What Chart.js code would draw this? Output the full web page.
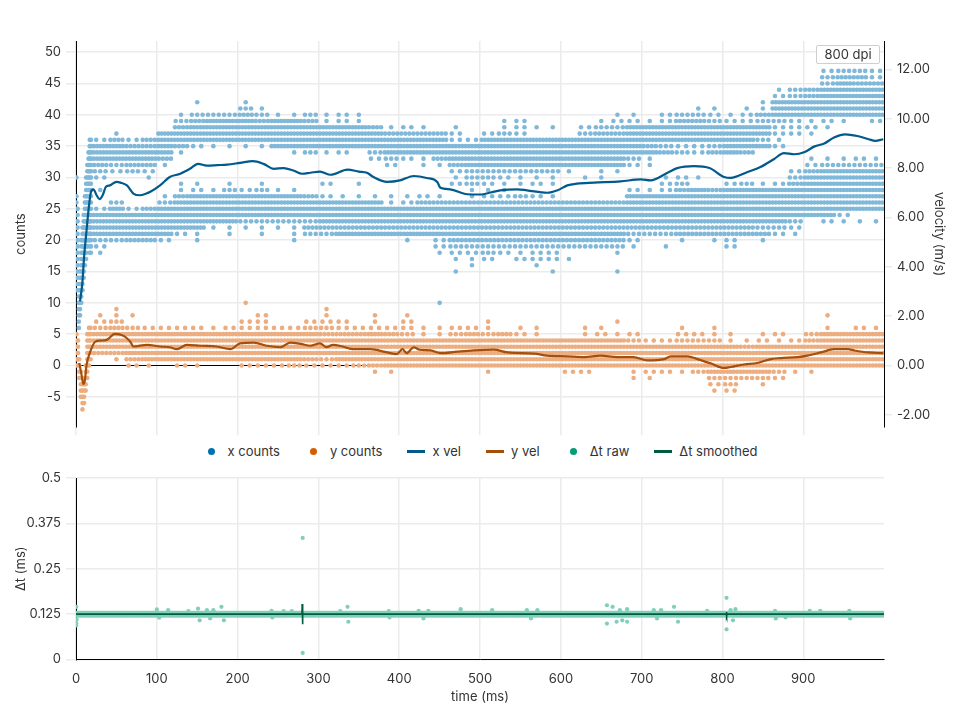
<!DOCTYPE html>
<html>
<head>
<meta charset="utf-8">
<script src="https://cdn.jsdelivr.net/npm/chart.js@4.4.1/dist/chart.umd.min.js"></script>
<style>
  html, body { margin: 0; padding: 0; background: #fff; }
  body { width: 960px; height: 720px; position: relative; overflow: hidden; font-family: Inter, "Noto Sans", sans-serif; }
  #top-wrap { position: absolute; left: 0; top: 0; width: 960px; height: 440px; }
  #bot-wrap { position: absolute; left: 0; top: 465px; width: 960px; height: 255px; }
  #legend { position: absolute; left: 0; top: 441px; width: 960px; height: 20px; display: flex; justify-content: center; align-items: center; font-size: 13px; color: #333; }
  .item { display: flex; align-items: center; margin: 0 12.5px; white-space: nowrap; }
  .mark { width: 18px; height: 18px; display: flex; align-items: center; justify-content: center; margin-right: 7px; }
  .dot { width: 7px; height: 7px; border-radius: 50%; }
  .bar { width: 18px; height: 3px; }
  #dpi { position: absolute; left: 816px; top: 45px; width: 62px; height: 17px; border: 1px solid #cfcfcf; border-radius: 2px; background: rgba(255,255,255,0.92); font-size: 13px; color: #333; line-height: 17px; text-align: center; }
</style>
</head>
<body>
<div id="top-wrap"><canvas id="topChart"></canvas></div>
<div id="legend"></div>
<div id="bot-wrap"><canvas id="botChart"></canvas></div>
<div id="dpi">800 dpi</div>
<script>
// ---------- data ----------
// occupancy of each count level per 20 ms bin (digit = how many dots seen, '.' = none)
const BIN_MS = 20;
const TIME_MAX = 999.875;

const xCountRows = [
  [47, ".......... .......... .......... .......... ......2332"],
  [46, ".......... .......... .......... .......... ......3442"],
  [45, ".......... .......... .......... .......... ......3544"],
  [44, ".......... .......... .......... .......... ...1345555"],
  [43, ".......... .......... .......... .......... ...2345555"],
  [42, ".......1.. 1......... .......... .......... ..15555555"],
  [41, ".......... 31........ .......... ........11 .115555555"],
  [40, "......1333 43113121.. .......... ...11.2332 1245555555"],
  [39, "......3455 54554121.. ......12.. ..12212443 22332121.2"],
  [38, "......4555 5555555541 21.1..1211 .233555555 5552221..."],
  [37, "..1..55555 5555555554 4442.232.. .344555555 555221...."],
  [36, ".242455555 5555555555 5552255555 5555555555 5531......"],
  [35, ".554454211 1155555555 5555555555 5555543223 5552......"],
  [34, ".555551... ...1312.35 5555555555 5555554324 54........"],
  [33, ".55554.... ........23 2145555555 555531.... .....11121"],
  [32, ".43441.... .........2 .114555555 555521.... .....23333"],
  [31, ".3232..... .......... ...2333333 1.11...... ....245555"],
  [30, ".2..1..... .......... ...1332111 .11...121. ....355555"],
  [29, "......11.1 .1...2.1.. ...2321121 ......23.. 2312455555"],
  [28, ".1....1213 2311...... ....111... ....212454 5555555555"],
  [27, ".....14555 5555421111 121.122321 ....555555 5555555555"],
  [26, "..3..35555 5555555551 2444444444 4444555555 5555555555"],
  [25, ".252455555 5555555555 5555555555 5555555555 5555555555"],
  [24, ".555555555 5555555555 5555555555 5555555555 55555552.."],
  [23, ".555555555 3333355555 5555555555 5555555555 55553.2111"],
  [22, ".555555511 1111444444 4444444444 4444444444 44332....."],
  [21, ".5555521.1 .1.1335555 5555555555 5555333444 44421....."],
  [20, ".33442.1.. ...1...... 1.24444444 44442..1.1 2.1......."],
  [19, ".2........ .......... ..23333333 33331.1... 2........."],
  [18, ".1........ .......... ..12232122 ...1...... .........."],
  [17, ".......... .......... ...112.222 1......... .........."],
  [16, ".......... .......... ....1...1. .......... .........."],
  [15, ".......... .......... ...1.....1 ...1...... .........."],
  [10, ".......... .......... ..1....... .......... .........."]
];

const yCountRows = [
  [10, ".......... 1......... .......... .......... .........."],
  [9,  "..1....... .....1.... .......... .......... .........."],
  [8,  ".111...... .2...1..1. 1......... .......... ......1..."],
  [7,  ".23....... 22..222.1. 2....1.... ...1...... .........."],
  [6,  ".343222212 2222332222 211221.11. .11....1.1 ......1.21"],
  [5,  ".555555555 5555544454 311343421. .1212..221 1.12.35555"],
  [4,  ".555555555 5555555555 5555555555 5555322333 1121245555"],
  [3,  ".555555555 5555555555 5555555555 5555555555 5455555555"],
  [2,  ".445555555 5555555555 5555555555 5555555555 5555555555"],
  [1,  "..14555555 5555435555 5555555555 5555555555 5555555555"],
  [0,  "...21.21.. 2223222345 5555555555 5555555555 5555555555"],
  [-1, ".......... ........11 .....1.... 22..122135 555311...."],
  [-2, ".......... .......... .......... ....11...3 3332......"],
  [-3, ".......... .......... .......... .........2 3.1......."],
  [-4, ".......... .......... .......... .........1 2........."]
];

// first 20 ms: [time ms, lowest level, highest level] of each dot column
const xCountEarly = [[0.5,12,27],[0.5,30,30],[2,13,25],[3.5,6,12],[5,8,15],[6.5,10,20],[8,12,22],
  [9.5,14,24],[11,16,27],[12.5,17,30],[14,19,32],[15.5,20,34],[17,18,36],[18.5,18,36]];
const yCountEarly = [[0.5,0,5],[2.5,0,4],[4,-2,1],[6,-5,-1],[8,-7,-2],[10,-6,-2],[12,-4,0],
  [14,-2,5],[16,0,6],[18,1,6]];

// velocity (m/s) [time ms, value]
const xVel = [[5,2.6],[8,3.4],[10,4.4],[13,5.45],[15.7,6.37],[18.6,7.04],[21.5,7.14],[25.5,6.9],[29,6.74],
  [33,6.9],[37,7.24],[42,7.3],[50,7.44],[55,7.41],[63,7.3],[71,6.97],[79,6.9],[87,6.97],[92,7.04],[104,7.3],
  [116,7.64],[129,7.77],[141,7.97],[151,8.17],[162,8.1],[175,8.12],[187,8.14],[203,8.21],[219,8.28],[232,8.17],
  [245,7.97],[257,8.0],[269,7.9],[280,7.77],[290,7.81],[302,7.86],[315,7.73],[336,7.94],[350,7.86],[360,7.81],
  [368,7.64],[385,7.44],[401,7.5],[418,7.68],[434,7.6],[447,7.44],[451,7.2],[463,7.14],[484,6.94],[501,6.93],
  [513,7.01],[525,7.1],[546,7.14],[558,7.1],[583,7.0],[596,7.1],[608,7.3],[620,7.37],[641,7.41],[674,7.46],
  [699,7.54],[711,7.5],[732,7.81],[744,8.0],[765,8.08],[784,8.0],[802,7.64],[810,7.6],[831,7.84],[847,8.04],
  [864,8.37],[876,8.61],[889,8.56],[901,8.64],[914,8.88],[926,9.0],[938,9.24],[952,9.37],[967,9.3],[981,9.17],
  [989,9.1],[999,9.17]];
const yVel = [[4,0.1],[7,-0.4],[9,-0.75],[11,-0.6],[13,0],[17,0.5],[24,0.97],[30,1.01],[38,1.04],[48,1.28],
  [59,1.2],[67,0.97],[71,0.77],[88,0.84],[104,0.77],[116,0.74],[125,0.66],[137,0.84],[154,0.8],[174,0.77],
  [191,0.66],[203,0.9],[220,0.93],[236,0.8],[253,0.74],[265,0.93],[278,0.88],[290,0.8],[302,0.9],[310,0.74],
  [318,0.84],[330,0.77],[343,0.66],[364,0.66],[385,0.53],[397,0.46],[404,0.66],[409,0.5],[418,0.74],[425,0.64],
  [439,0.61],[451,0.5],[472,0.56],[492,0.61],[517,0.64],[534,0.53],[567,0.48],[583,0.4],[608,0.37],[629,0.34],
  [649,0.4],[670,0.34],[690,0.34],[707,0.21],[728,0.26],[736,0.37],[757,0.37],[769,0.26],[786,0.08],[802,-0.1],
  [810,-0.06],[827,0.04],[843,0.1],[860,0.26],[872,0.3],[893,0.34],[905,0.4],[922,0.53],[938,0.66],[955,0.66],
  [963,0.61],[980,0.53],[999,0.5]];

// Δt (ms): the steady band and the samples that stray from it
const dtBandLevels = [0.1215, 0.125, 0.1285];
const dtOutliers = [[0.3,0.145],[0.3,0.1],[0.3,0.094],[0.8,0.11],[100,0.138],[103,0.115],[114,0.136],[139,0.133],
  [151,0.14],[153,0.108],[162,0.136],[166,0.113],[170,0.136],[180,0.145],[183,0.108],[242,0.134],[243,0.116],
  [257,0.133],[267,0.133],[280.5,0.335],[280.5,0.018],[327,0.133],[336,0.145],[337,0.104],[387,0.133],[388,0.116],
  [424,0.134],[430,0.113],[436,0.134],[476,0.1385],[515,0.136],[558,0.136],[563,0.113],[571,0.136],[657,0.1495],
  [657,0.099],[664,0.145],[669,0.104],[673,0.136],[676,0.108],[682,0.1385],[682,0.104],[715,0.136],[719,0.113],
  [724,0.136],[740,0.145],[745,0.104],[781,0.134],[805,0.17],[805,0.083],[810,0.136],[813,0.108],[816,0.1385],
  [865,0.134],[866,0.113],[878,0.116],[908,0.134],[921,0.134],[957,0.134],[958,0.113]];
const dtSmooth = [[0,0.125],[279.6,0.125],[279.9,0.153],[280.3,0.097],[280.7,0.125],[804.6,0.125],
  [804.9,0.131],[805.3,0.12],[805.7,0.125],[999.875,0.125]];

const timeTicks = [0, 100, 200, 300, 400, 500, 600, 700, 800, 900];
const velTicks = [-2, 0, 2, 4, 6, 8, 10, 12];

// ---------- helpers ----------
function rowsToPoints(rows, early) {
  const pts = [];
  rows.forEach(([level, str]) => {
    const s = str.replace(/ /g, '');
    for (let k = 0; k < s.length; k++) {
      const n = s[k] === '.' ? 0 : +s[k];
      for (let i = 0; i < n; i++) pts.push({x: k * BIN_MS + BIN_MS * (i + 0.5) / n, y: level});
    }
  });
  early.forEach(([t, lo, hi]) => { for (let c = lo; c <= hi; c++) pts.push({x: t, y: c}); });
  return pts;
}
const toXY = arr => arr.map(([x, y]) => ({x, y}));
const fixTicks = list => s => { s.ticks = list.map(value => ({value})); };

const dtRawPts = [];
for (let t = 0; t <= TIME_MAX; t += 1) dtBandLevels.forEach(v => dtRawPts.push({x: t, y: v}));
dtOutliers.forEach(([x, y]) => dtRawPts.push({x, y}));

// ---------- look ----------
Chart.defaults.font.family = "Inter, 'Noto Sans', sans-serif";
Chart.defaults.font.size = 13;
Chart.defaults.color = '#333';

const GRID = '#ebebeb';
const COL = {
  xDot: '#80b8d9', yDot: '#ecae80', xVel: '#005a8c', yVel: '#a4500c',
  dtDot: '#80cfb9', dtLine: '#005c3e',
  xKey: '#0072b2', yKey: '#d55e00', dtKey: '#009e73'
};
const VEL_MIN = -2.5, VEL_MAX = 13.15, MPS_PER_COUNT = 0.254;

const common = {
  responsive: true, maintainAspectRatio: false, animation: false, events: [],
  plugins: { legend: { display: false }, tooltip: { enabled: false } }
};

new Chart(document.getElementById('topChart'), {
  type: 'scatter',
  data: {
    datasets: [
      { label: 'x counts', data: rowsToPoints(xCountRows, xCountEarly), yAxisID: 'y',
        pointRadius: 2.3, pointBorderWidth: 0, backgroundColor: COL.xDot, order: 3 },
      { label: 'y counts', data: rowsToPoints(yCountRows, yCountEarly), yAxisID: 'y',
        pointRadius: 2.3, pointBorderWidth: 0, backgroundColor: COL.yDot, order: 2 },
      { label: 'x vel', data: toXY(xVel), yAxisID: 'v', showLine: true, pointRadius: 0,
        borderColor: COL.xVel, borderWidth: 2.2, cubicInterpolationMode: 'monotone', order: 1 },
      { label: 'y vel', data: toXY(yVel), yAxisID: 'v', showLine: true, pointRadius: 0,
        borderColor: COL.yVel, borderWidth: 2.2, cubicInterpolationMode: 'monotone', order: 0 }
    ]
  },
  options: Object.assign({}, common, {
    layout: { padding: { top: 41, left: 0, right: 0, bottom: 0 } },
    scales: {
      x: { type: 'linear', min: 0, max: TIME_MAX,
        afterBuildTicks: fixTicks(timeTicks),
        ticks: { display: false },
        grid: { color: GRID, lineWidth: 1.5, tickLength: 8 },
        border: { display: false } },
      y: { position: 'left', min: VEL_MIN / MPS_PER_COUNT, max: VEL_MAX / MPS_PER_COUNT,
        ticks: { stepSize: 5, includeBounds: false, padding: 5 },
        grid: { color: c => c.tick && c.tick.value === 0 ? '#000' : GRID,
                lineWidth: c => c.tick && c.tick.value === 0 ? 1 : 1.5,
                tickColor: GRID, tickLength: 10 },
        border: { color: '#000', width: 1 },
        title: { display: true, text: 'counts', padding: { top: 13, bottom: 0 } },
        afterFit: s => { s.width = 76; } },
      v: { position: 'right', min: VEL_MIN, max: VEL_MAX,
        afterBuildTicks: fixTicks(velTicks),
        ticks: { padding: 5, callback: v => v.toFixed(2) },
        grid: { drawOnChartArea: false, color: GRID, lineWidth: 1.5, tickLength: 8 },
        border: { color: '#000', width: 1 },
        title: { display: true, text: 'velocity (m/s)', padding: { top: 13, bottom: 0 } },
        afterFit: s => { s.width = 76; } }
    }
  })
});

new Chart(document.getElementById('botChart'), {
  type: 'scatter',
  data: {
    datasets: [
      { label: 'Δt raw', data: dtRawPts, pointRadius: 2.1, pointBorderWidth: 0,
        backgroundColor: COL.dtDot, order: 1 },
      { label: 'Δt smoothed', data: toXY(dtSmooth), showLine: true, pointRadius: 0,
        borderColor: COL.dtLine, borderWidth: 1.6, order: 0 }
    ]
  },
  options: Object.assign({}, common, {
    layout: { padding: { top: 13, left: 0, right: 76, bottom: 11.5 } },
    scales: {
      x: { type: 'linear', min: 0, max: TIME_MAX,
        afterBuildTicks: fixTicks(timeTicks),
        ticks: { padding: 12, callback: v => String(v) },
        grid: { color: GRID, lineWidth: 1.5, drawTicks: false },
        border: { color: '#000', width: 1 },
        title: { display: true, text: 'time (ms)', padding: { top: 2, bottom: 4 } },
        afterFit: s => { s.height = 49; } },
      y: { min: 0, max: 0.5,
        ticks: { stepSize: 0.125, padding: 5, callback: v => String(v) },
        grid: { color: GRID, lineWidth: 1.5, tickLength: 10 },
        border: { color: '#000', width: 1 },
        title: { display: true, text: 'Δt (ms)', padding: { top: 13, bottom: 0 } },
        afterFit: s => { s.width = 76; } }
    }
  })
});

// ---------- shared legend ----------
const legendItems = [
  ['x counts', 'dot', COL.xKey], ['y counts', 'dot', COL.yKey], ['x vel', 'bar', COL.xVel],
  ['y vel', 'bar', COL.yVel], ['Δt raw', 'dot', COL.dtKey], ['Δt smoothed', 'bar', COL.dtLine]
];
const legend = document.getElementById('legend');
legendItems.forEach(([text, kind, color]) => {
  const item = document.createElement('div');
  item.className = 'item';
  item.innerHTML = `<span class="mark"><span class="${kind}" style="background:${color}"></span></span><span>${text}</span>`;
  legend.appendChild(item);
});
</script>
</body>
</html>
